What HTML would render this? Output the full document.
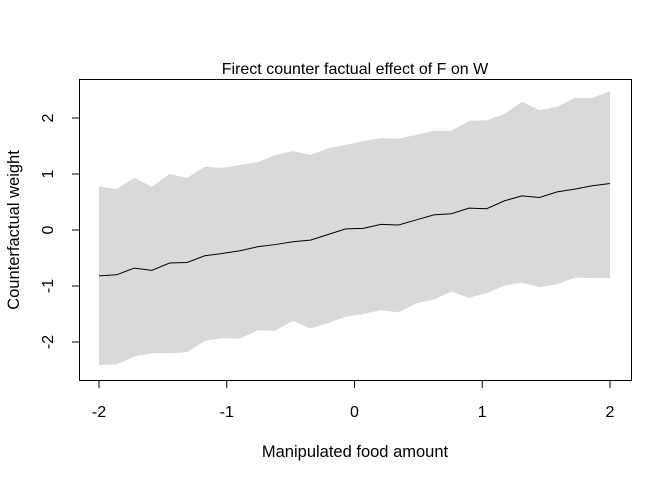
<!DOCTYPE html>
<html><head><meta charset="utf-8"><style>
body{margin:0;background:#fff}
text{font-family:"Liberation Sans",Arial,sans-serif;fill:#000}
</style></head><body>
<svg id="c" width="672" height="480" xmlns="http://www.w3.org/2000/svg"></svg>
<script>
const xTicks=[-2,-1,0,1,2];
const yTicks=[-2,-1,0,1,2];
const upper=[0.78,0.73,0.93,0.77,1.0,0.93,1.13,1.11,1.16,1.21,1.34,1.41,1.34,1.46,1.52,1.59,1.64,1.63,1.70,1.77,1.77,1.95,1.96,2.07,2.29,2.14,2.20,2.36,2.36,2.48];
const meanW=[-0.82,-0.80,-0.68,-0.72,-0.59,-0.58,-0.46,-0.42,-0.37,-0.30,-0.26,-0.21,-0.18,-0.08,0.02,0.03,0.10,0.09,0.18,0.27,0.29,0.39,0.38,0.52,0.61,0.58,0.68,0.73,0.79,0.83];
const lower=[-2.41,-2.40,-2.26,-2.20,-2.20,-2.18,-1.98,-1.93,-1.94,-1.79,-1.80,-1.62,-1.76,-1.66,-1.55,-1.50,-1.43,-1.47,-1.31,-1.24,-1.10,-1.21,-1.13,-0.99,-0.94,-1.02,-0.97,-0.85,-0.86,-0.86];
const N=meanW.length;
const xs=meanW.map((_,i)=>-2+4*i/(N-1));
const X=v=>99+(v+2)*127.75;
const Y=v=>230-v*56;
const svg=document.getElementById('c');
const NS='http://www.w3.org/2000/svg';
function mk(t,a,txt){const e=document.createElementNS(NS,t);for(const k in a)e.setAttribute(k,a[k]);if(txt!==undefined)e.textContent=txt;svg.appendChild(e);return e;}
let d='M'+xs.map((x,i)=>X(x)+','+Y(upper[i])).join('L')+'L'+xs.map((x,i)=>X(x)+','+Y(lower[i])).reverse().join('L')+'Z';
let e=mk('path',{d:d,fill:'#d9d9d9',stroke:'none'});


e=mk('polyline',{points:xs.map((x,i)=>X(x)+','+Y(meanW[i])).join(' '),fill:'none',stroke:'#000','stroke-width':1});


e=mk('rect',{x:79.5,y:79.5,width:552,height:301,fill:'none',stroke:'#000'});


e=mk('line',{x1:X(-2),x2:X(2),y1:380.5,y2:380.5,stroke:'#000'});


xTicks.forEach(v=>{
 let t=mk('line',{x1:X(v),x2:X(v),y1:381,y2:388,stroke:'#000'});
 
 
 t=mk('text',{x:X(v),y:417,'text-anchor':'middle','font-size':16},v);
 
 
});
e=mk('line',{x1:79.5,x2:79.5,y1:Y(2),y2:Y(-2),stroke:'#000'});


yTicks.forEach(v=>{
 let t=mk('line',{x1:72,x2:79,y1:Y(v),y2:Y(v),stroke:'#000'});
 
 
 t=mk('text',{x:0,y:0,'text-anchor':'middle','font-size':16,transform:`translate(53,${Y(v)}) rotate(-90)`},v);
 
 
});
e=mk('text',{x:355,y:74,'text-anchor':'middle','font-size':16},'Firect counter factual effect of F on W');


e=mk('text',{x:355,y:457,'text-anchor':'middle','font-size':16.5},'Manipulated food amount');


e=mk('text',{x:0,y:0,'text-anchor':'middle','font-size':16.5,transform:'translate(19,230) rotate(-90)'},'Counterfactual weight');


</script>
</body></html>
